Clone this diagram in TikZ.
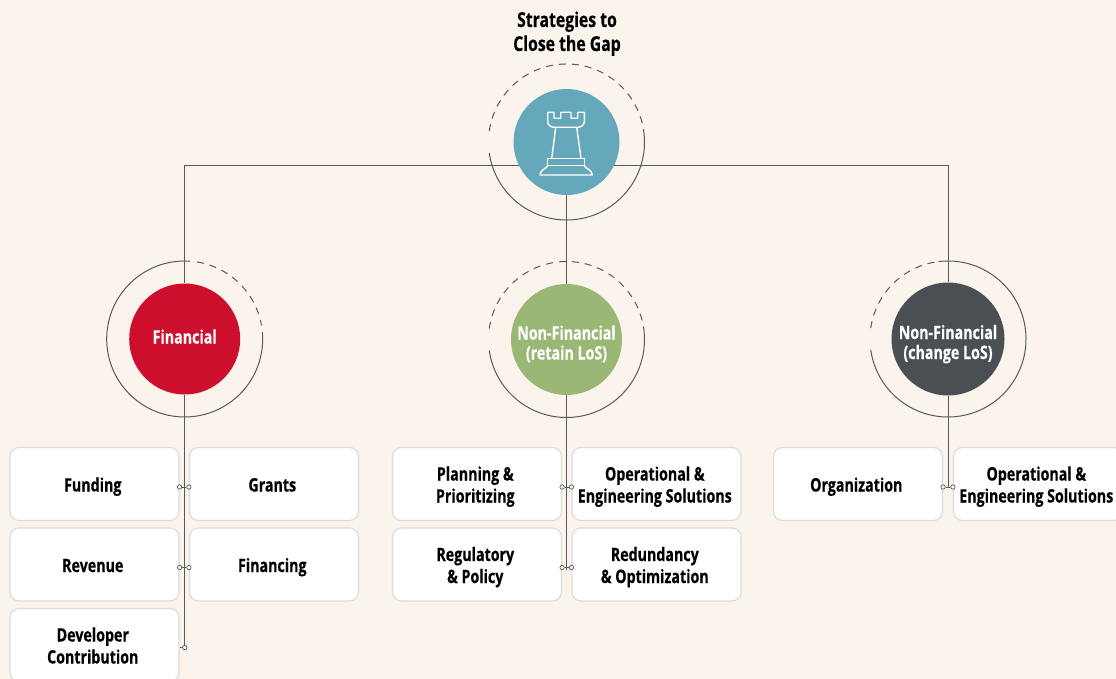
\documentclass[tikz,border=0pt]{standalone}
\usepackage{fontspec}
\setmainfont[FakeStretch=0.77,BoldFeatures={FakeBold=0.4}]{Open Sans}
\definecolor{pagebg}{RGB}{250,244,236}
\definecolor{linegray}{RGB}{85,90,94}
\definecolor{boxgray}{RGB}{220,220,218}
\definecolor{hubblue}{RGB}{101,168,188}
\definecolor{finred}{RGB}{206,14,45}
\definecolor{retgreen}{RGB}{154,183,118}
\definecolor{chgdark}{RGB}{74,79,84}
\tikzset{
  strutted/.style={execute at begin node={\rule{0pt}{#1pt}},execute at end node={\rule[-5pt]{0pt}{0pt}}},
  hubdisc/.style={circle,inner sep=0pt,minimum size=#1,text=white,align=center,font=\bfseries\fontsize{18.5}{20}\selectfont},
  itembox/.style={draw=boxgray,line width=1.2pt,fill=white,rounded corners=9pt,minimum width=169pt,minimum height=73pt,inner sep=0pt,text width=169pt,align=center,font=\bfseries\fontsize{18.5}{22}\selectfont,execute at begin node={\leftskip=0pt plus 1fil\rightskip=3.4pt plus 1fil\parfillskip=0pt\spaceskip=0pt\xspaceskip=0pt\relax},strutted=20},
  link/.style={draw=linegray,line width=1pt},
  ringsolid/.style={draw=linegray,line width=1pt},
  ringdash/.style={draw=linegray,line width=1pt,dash pattern=on 7pt off 6pt},
  tap/.style={circle,draw=linegray,line width=.7pt,fill=pagebg,inner sep=0pt,minimum size=4.4pt}
}
\begin{document}
\begin{tikzpicture}[x=1pt,y=1pt]
  \clip (0,-679) rectangle (1116,0);
  \fill [pagebg] (0,-679) rectangle (1116,0);

  \node [align=center,font=\bfseries\fontsize{20.5}{24}\selectfont,strutted=14] (title) at (567,-33.7) {Strategies to\\Close the Gap};

  \node [hubdisc=106pt,fill=hubblue] (hub) at (566.5,-142) {};
  \node [hubdisc=111pt,fill=finred,strutted=13.6] (fin) at (184.7,-339) {Financial};
  \node [hubdisc=111pt,fill=retgreen,strutted=45] (ret) at (566.5,-339.5) {Non-Financial\\(retain LoS)};
  \node [hubdisc=113pt,fill=chgdark,strutted=45] (chg) at (948,-339) {Non-Financial\\(change LoS)};

  % rings
  \draw [ringsolid] (hub) ++(5:78pt) arc [start angle=5,end angle=-172,radius=78pt];
  \draw [ringdash] (hub) ++(172:78pt) arc [start angle=172,end angle=5,radius=78pt];
  \draw [ringsolid] (fin) ++(86:78pt) arc [start angle=86,end angle=365,radius=78pt];
  \draw [ringdash] (fin) ++(81:78pt) arc [start angle=81,end angle=10,radius=78pt];
  \draw [ringsolid] (ret) ++(5:78pt) arc [start angle=5,end angle=-172,radius=78pt];
  \draw [ringdash] (ret) ++(172:78pt) arc [start angle=172,end angle=5,radius=78pt];
  \draw [ringsolid] (chg) ++(97:78pt) arc [start angle=97,end angle=-172,radius=78pt];
  \draw [ringdash] (chg) ++(172:78pt) arc [start angle=172,end angle=100,radius=78pt];

  % rook
  \draw [white,line width=1.4pt,line join=round] (547.7,-112.3) -- (554,-112.3) -- (554,-118.3) -- (560.7,-118.3) -- (560.7,-112.3) -- (571,-112.3) -- (571,-118.3) -- (577.7,-118.3) -- (577.7,-112.3) -- (584.3,-112.3) -- (584.3,-121.7) .. controls (584.3,-125) and (581,-127.3) .. (577.7,-127.3) -- (554,-127.3) .. controls (551,-127.3) and (547.7,-125) .. (547.7,-121.7) -- cycle;
  \draw [white,line width=1.4pt] (555.7,-127.3) -- (551.7,-158.3) (576.7,-127.3) -- (581,-158.3);
  \draw [white,line width=1.4pt] (547.7,-158.3) rectangle (584.3,-165.7);
  \draw [white,line width=1.4pt,line join=round] (547.7,-165.7) .. controls (546,-169) and (540,-170) .. (540,-175) -- (592.3,-175) .. controls (592.3,-170) and (586,-169) .. (584.3,-165.7);

  % item boxes
  \node [itembox] (funding) at (94.5,-484) {Funding};
  \node [itembox] (grants) at (274,-484) {Grants};
  \node [itembox] (revenue) at (94.5,-564.5) {Revenue};
  \node [itembox] (financing) at (274,-564.5) {Financing};
  \node [itembox] (developer) at (94.5,-645) {Developer\\Contribution};
  \node [itembox] (planning) at (477,-484) {Planning \&\\Prioritizing};
  \node [itembox] (operret) at (656.5,-484) {Operational \&\\Engineering Solutions};
  \node [itembox] (regulatory) at (477,-564.5) {Regulatory\\\& Policy};
  \node [itembox] (redundancy) at (656.5,-564.5) {Redundancy\\\& Optimization};
  \node [itembox] (organization) at (858,-484) {Organization};
  \node [itembox] (operchg) at (1038,-484) {Operational \&\\Engineering Solutions};

  % trunk lines
  \path [link] (hub.206.3) -| (fin.north);
  \path [link] (hub.-26.3) -| (chg.north);
  \path [link] (hub.south) -- (ret.north);
  \coordinate (finend) at (184.7,-647.5);
  \coordinate (retend) at (566.5,-570);
  \coordinate (chgend) at (948,-487);
  \path [link] (fin.south) -- (finend);
  \path [link] (ret.south) -- (retend);
  \path [link] (chg.south) -- (chgend);

  % taps
  \foreach \lbox/\rbox in {funding/grants,revenue/financing,planning/operret,regulatory/redundancy,organization/operchg}{
    \node [tap] (\lbox-tap) at ([yshift=-3pt]\lbox.east) {};
    \node [tap] (\rbox-tap) at ([yshift=-3pt]\rbox.west) {};
    \draw [draw=linegray,line width=.7pt] (\lbox-tap) -- (\rbox-tap);
  }
  \node [tap] (developer-tap) at (finend) {};
  \draw [draw=linegray,line width=.7pt] (developer.east |- finend) -- (developer-tap);
\end{tikzpicture}
\end{document}
